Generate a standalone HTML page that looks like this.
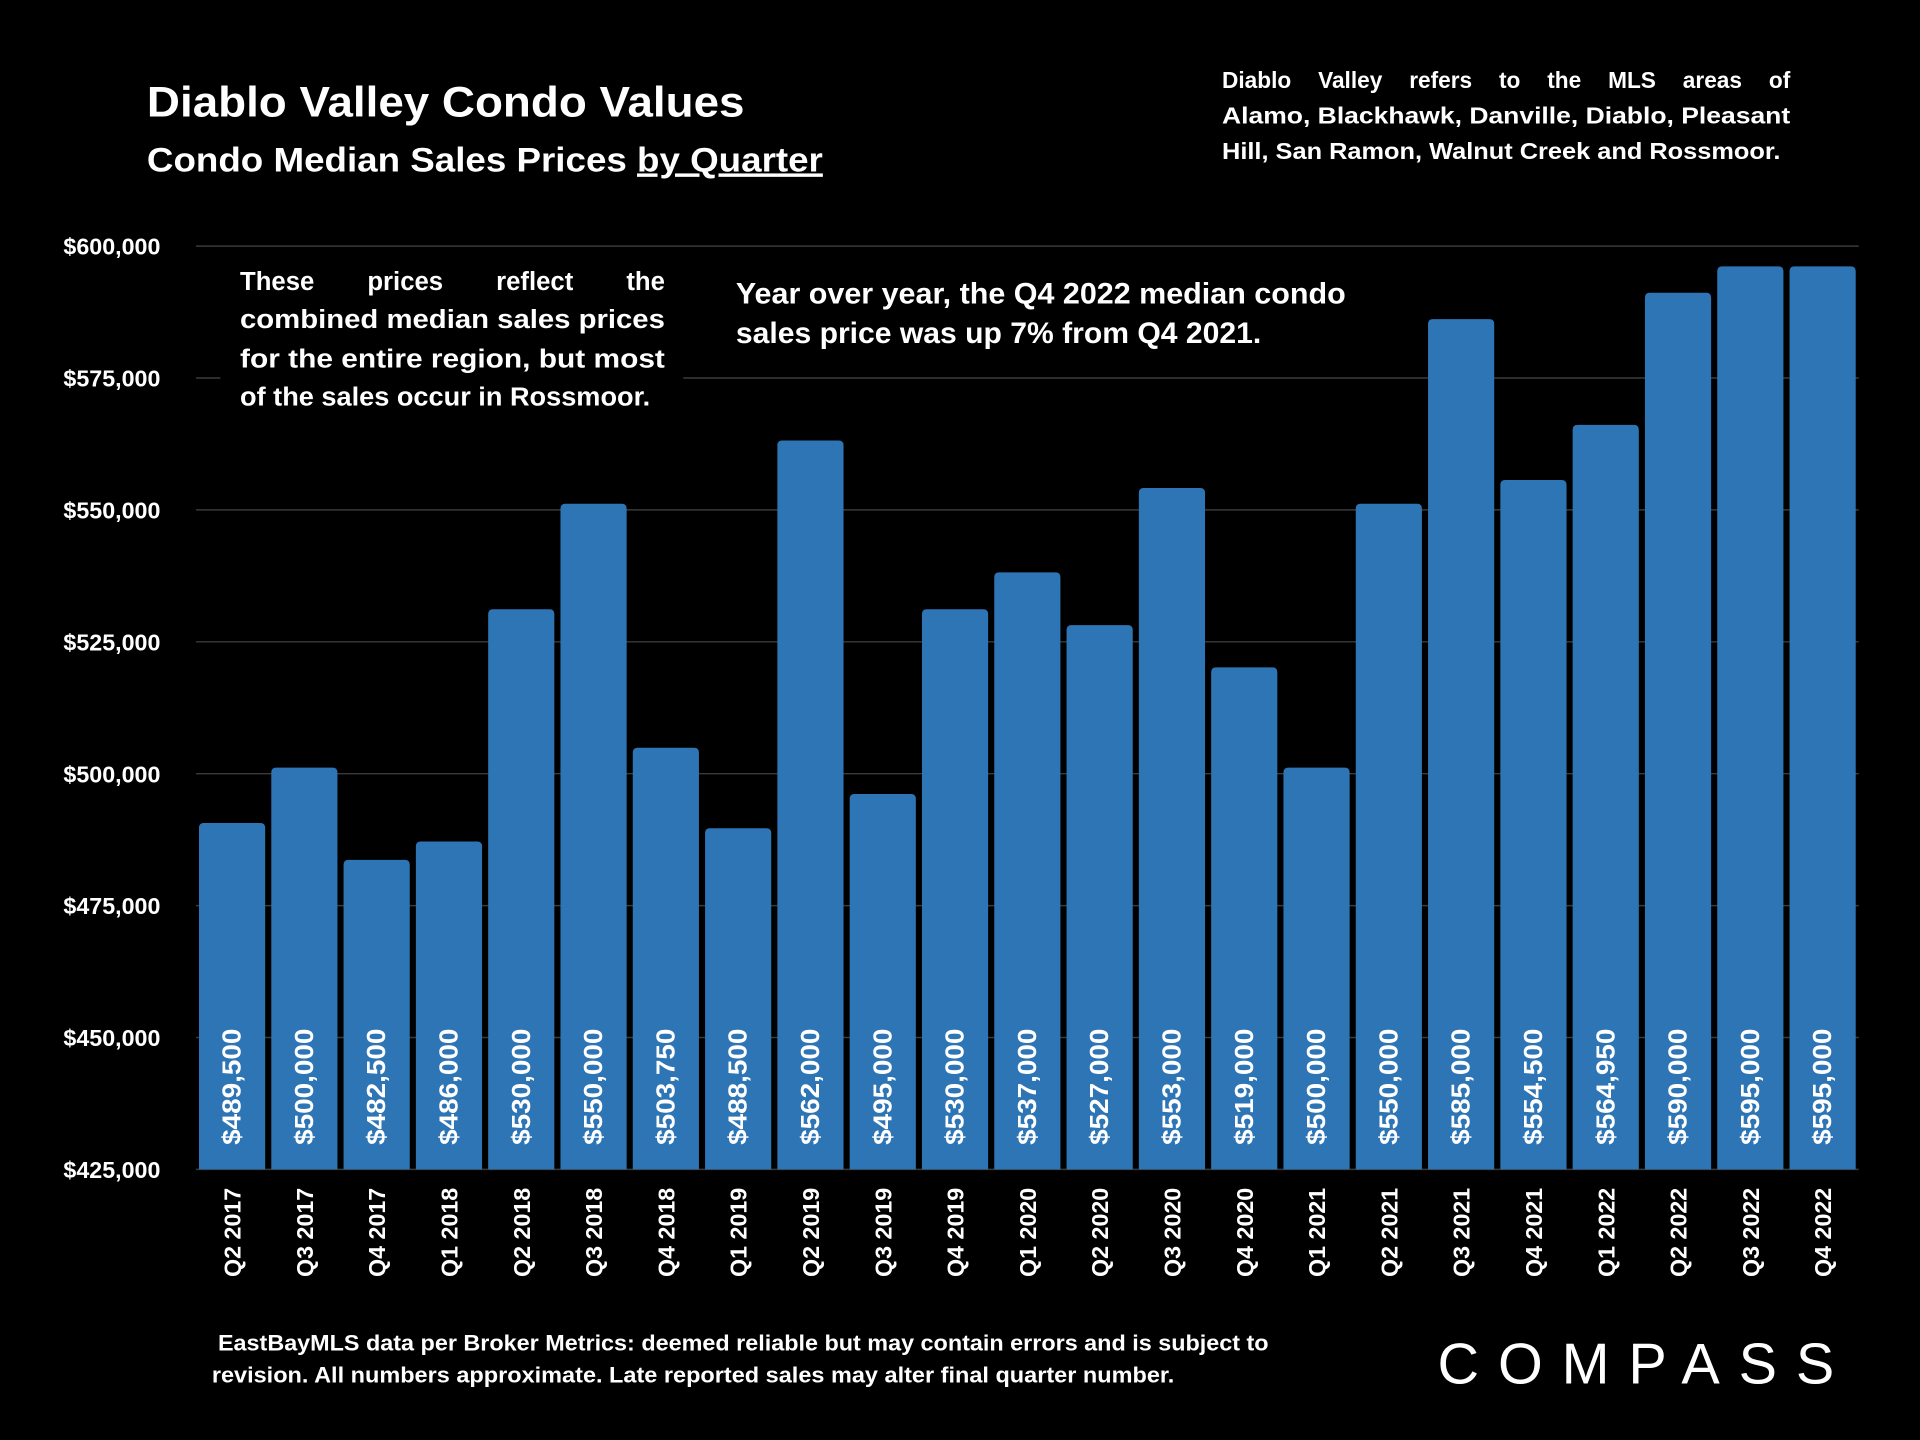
<!DOCTYPE html>
<html><head><meta charset="utf-8"><style>
html,body{margin:0;padding:0;background:#000;}
svg{display:block;font-family:"Liberation Sans",sans-serif;}
</style></head><body>
<svg id="chart" width="1920" height="1440" viewBox="0 0 1568 1176" xmlns="http://www.w3.org/2000/svg">
<rect x="0" y="0" width="1568" height="1176" fill="#000"/>
<text x="120" y="95" fill="#fff" font-size="35" font-weight="bold" textLength="488" lengthAdjust="spacingAndGlyphs">Diablo Valley Condo Values</text>
<text x="120" y="140" fill="#fff" font-size="28" font-weight="bold" textLength="552" lengthAdjust="spacingAndGlyphs">Condo Median Sales Prices <tspan text-decoration="underline">by Quarter</tspan></text>
<g fill="#fff" font-size="18.5" font-weight="bold">
<text class="just" data-w="464" x="998" y="72">Diablo Valley refers to the MLS areas of</text>
<text x="998" y="101" textLength="464" lengthAdjust="spacingAndGlyphs">Alamo, Blackhawk, Danville, Diablo, Pleasant</text>
<text x="998" y="130" textLength="456" lengthAdjust="spacingAndGlyphs">Hill, San Ramon, Walnut Creek and Rossmoor.</text>
</g>
<g id="grid"></g>
<g id="yaxis"></g>
<g id="bars"></g>
<g id="xaxis"></g>
<rect x="180" y="212" width="378" height="130" fill="#000"/>
<g fill="#fff" font-size="21" font-weight="bold">
<text class="just" data-w="347" x="196" y="237">These prices reflect the</text>
<text x="196" y="268" textLength="347" lengthAdjust="spacingAndGlyphs">combined median sales prices</text>
<text x="196" y="300" textLength="347" lengthAdjust="spacingAndGlyphs">for the entire region, but most</text>
<text x="196" y="331" textLength="335" lengthAdjust="spacingAndGlyphs">of the sales occur in Rossmoor.</text>
</g>
<g fill="#fff" font-size="24" font-weight="bold">
<text x="601" y="248" textLength="498" lengthAdjust="spacingAndGlyphs">Year over year, the Q4 2022 median condo</text>
<text x="601" y="280" textLength="429" lengthAdjust="spacingAndGlyphs">sales price was up 7% from Q4 2021.</text>
</g>
<g fill="#fff" font-size="18" font-weight="bold">
<text x="178" y="1103" textLength="858" lengthAdjust="spacingAndGlyphs">EastBayMLS data per Broker Metrics:  deemed reliable but may contain errors and is subject to</text>
<text x="173" y="1129" textLength="786" lengthAdjust="spacingAndGlyphs">revision. All numbers approximate. Late reported sales may alter final quarter number.</text>
</g>
<text x="1174" y="1130" fill="#fff" font-size="47" textLength="324" lengthAdjust="spacing">COMPASS</text>
<script>
const categories=["Q2 2017","Q3 2017","Q4 2017","Q1 2018","Q2 2018","Q3 2018","Q4 2018","Q1 2019","Q2 2019","Q3 2019","Q4 2019","Q1 2020","Q2 2020","Q3 2020","Q4 2020","Q1 2021","Q2 2021","Q3 2021","Q4 2021","Q1 2022","Q2 2022","Q3 2022","Q4 2022"];
const values=[489500,500000,482500,486000,530000,550000,503750,488500,562000,495000,530000,537000,527000,553000,519000,500000,550000,585000,554500,564950,590000,595000,595000];
const yTicks=[425000,450000,475000,500000,525000,550000,575000,600000];
const NS="http://www.w3.org/2000/svg";
const x0=160,x1=1518,yTop=201,yBot=955,vMin=425000,vMax=600000;
const y=v=>yBot-(v-vMin)/(vMax-vMin)*(yBot-yTop);
const step=(x1-x0)/categories.length;
const fmt=v=>"$"+v.toLocaleString("en-US");
function mk(tag,attrs,parent){const e=document.createElementNS(NS,tag);for(const k in attrs)e.setAttribute(k,attrs[k]);parent.appendChild(e);return e;}
document.querySelectorAll("text.just").forEach(t=>{
 const len=t.getComputedTextLength();const sp=(t.textContent.match(/ /g)||[]).length;
 t.setAttribute("word-spacing",((+t.getAttribute("data-w")-len)/sp).toFixed(2));
});
const grid=document.getElementById("grid"),yaxis=document.getElementById("yaxis"),bars=document.getElementById("bars"),xaxis=document.getElementById("xaxis");
yTicks.forEach(t=>{
 const l=mk("line",{x1:x0,x2:x1,y1:y(t),y2:y(t),stroke:"#3a3a3a","stroke-width":1.2},grid);
 
 
 const tx=mk("text",{x:131,y:y(t)+7,fill:"#fff","font-size":19,"font-weight":"bold","text-anchor":"end"},yaxis);
 tx.textContent=fmt(t);
 
 
});
categories.forEach((c,i)=>{
 const bx=x0+i*step+2.5,bw=step-5,cx=x0+i*step+step/2;
 const top=y(values[i])-5;
 const r=mk("path",{d:`M${bx},${yBot}V${top+4}Q${bx},${top} ${bx+4},${top}H${bx+bw-4}Q${bx+bw},${top} ${bx+bw},${top+4}V${yBot}Z`,fill:"#2e75b6"},bars);
 
 
 const vl=mk("text",{x:0,y:0,fill:"#fff","font-size":21,"font-weight":"bold",textLength:95,lengthAdjust:"spacingAndGlyphs",transform:`translate(${cx+7},935) rotate(-90)`},bars);
 vl.textContent=fmt(values[i]);
 
 
 const xl=mk("text",{x:0,y:0,fill:"#fff","font-size":19,"font-weight":"bold","text-anchor":"end",transform:`translate(${cx+7},970) rotate(-90)`},xaxis);
 xl.textContent=c;
 
 
});
</script>
</svg>
</body></html>
